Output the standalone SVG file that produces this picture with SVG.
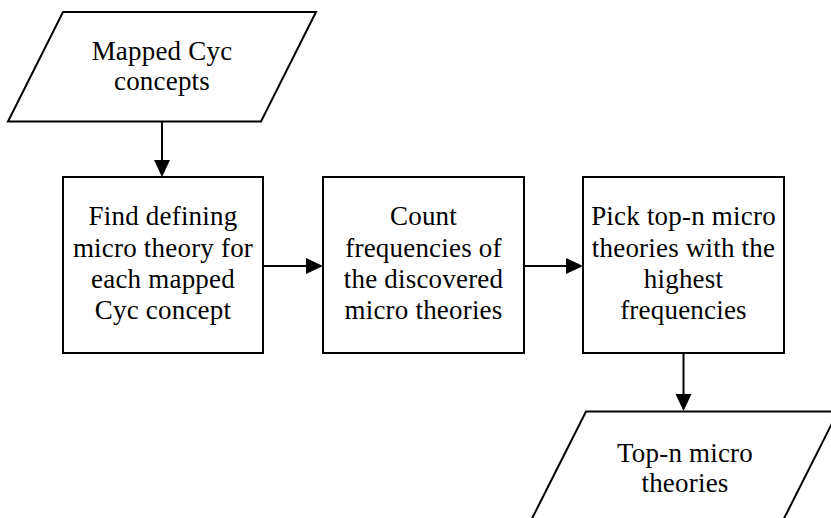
<svg xmlns="http://www.w3.org/2000/svg" width="831" height="518" viewBox="0 0 831 518">
  <style>
    .shape { fill: #ffffff; stroke: #000000; stroke-width: 2; stroke-linejoin: miter; }
    .conn { fill: none; stroke: #000000; stroke-width: 2; }
    .lbl { font-family: "Liberation Serif", "Times New Roman", serif; font-size: 27px; fill: #000000; text-anchor: middle; letter-spacing: 0.2px; }
  </style>
  <defs>
    <marker id="arrow" markerUnits="userSpaceOnUse" markerWidth="18" markerHeight="18" refX="7" refY="8" orient="auto">
      <path d="M0,0 L17,8 L0,16 Z" fill="#000000"/>
    </marker>
  </defs>
  <rect x="0" y="0" width="831" height="518" fill="#ffffff"/>

  <g id="input">
    <polygon class="shape" points="63,12 316,12 261,121.5 8,121.5"/>
    <text class="lbl" x="162" y="60">Mapped Cyc</text>
    <text class="lbl" x="162" y="90">concepts</text>
  </g>

  <g id="find">
    <rect class="shape" x="63" y="177" width="200" height="176"/>
    <text class="lbl" x="163" y="225">Find defining</text>
    <text class="lbl" x="163" y="256.5">micro theory for</text>
    <text class="lbl" x="163" y="288">each mapped</text>
    <text class="lbl" x="163" y="319">Cyc concept</text>
  </g>

  <g id="count">
    <rect class="shape" x="323" y="177" width="201" height="176"/>
    <text class="lbl" x="423.5" y="225">Count</text>
    <text class="lbl" x="423.5" y="256.5">frequencies of</text>
    <text class="lbl" x="423.5" y="288">the discovered</text>
    <text class="lbl" x="423.5" y="319">micro theories</text>
  </g>

  <g id="pick">
    <rect class="shape" x="583" y="177" width="201" height="176"/>
    <text class="lbl" x="683.5" y="225">Pick top-n micro</text>
    <text class="lbl" x="683.5" y="256.5">theories with the</text>
    <text class="lbl" x="683.5" y="288">highest</text>
    <text class="lbl" x="683.5" y="319">frequencies</text>
  </g>

  <g id="output">
    <polygon class="shape" points="586,411.5 838,411.5 783,520.5 531,520.5"/>
    <text class="lbl" x="685" y="462">Top-n micro</text>
    <text class="lbl" x="685" y="492">theories</text>
  </g>

  <g id="connectors">
    <path class="conn" d="M162,122 L162,167" marker-end="url(#arrow)"/>
    <path class="conn" d="M263,266 L313,266" marker-end="url(#arrow)"/>
    <path class="conn" d="M524,266 L573,266" marker-end="url(#arrow)"/>
    <path class="conn" d="M683.5,353 L683.5,401" marker-end="url(#arrow)"/>
  </g>
</svg>
